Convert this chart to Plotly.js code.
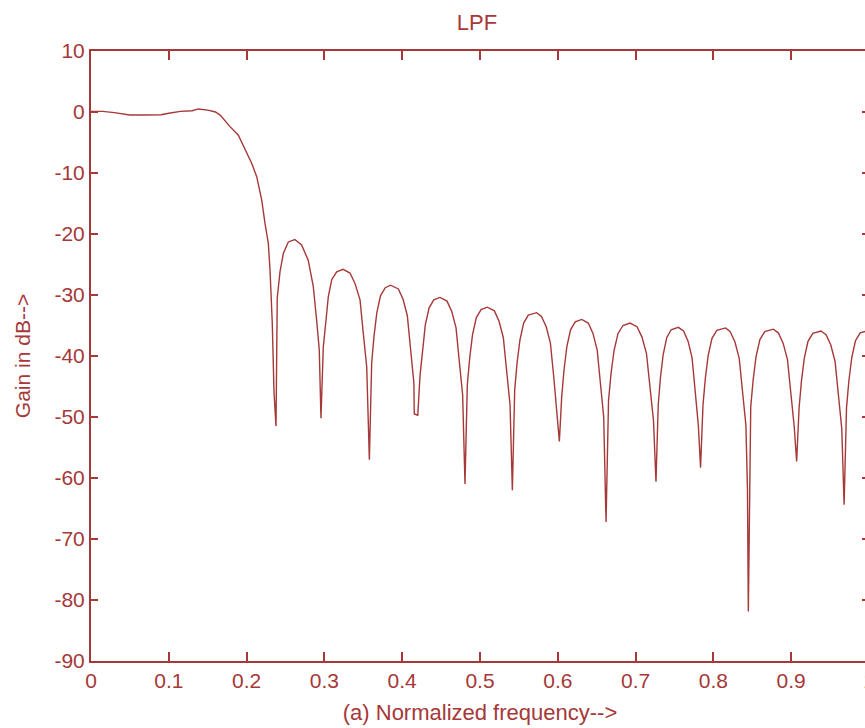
<!DOCTYPE html>
<html>
<head>
<meta charset="utf-8">
<script src="https://cdn.plot.ly/plotly-3.0.1.min.js"></script>
<style>
html,body{margin:0;padding:0;overflow:hidden;background:#fff;}
#chart{width:880px;height:728px;}
</style>
</head>
<body>
<div id="chart"></div>
<script>
// Normalized frequency (x) and gain in dB (y)
const freq = [
  0, 0.015, 0.03, 0.05, 0.07, 0.09, 0.10, 0.115, 0.13, 0.138, 0.15, 0.16, 0.166,
  0.1787, 0.1894, 0.198, 0.2065, 0.213, 0.2172, 0.2194, 0.2237, 0.2279, 0.2301, 0.233, 0.2352,
  0.2378,
  0.2394, 0.2429, 0.2472, 0.2536, 0.262, 0.2707, 0.2792, 0.2857, 0.2900, 0.2934,
  0.2956,
  0.2986, 0.3021, 0.3050, 0.3094, 0.3158, 0.324, 0.3329, 0.3393, 0.3458, 0.3500, 0.3544,
  0.3578,
  0.3608, 0.3638, 0.3674, 0.3722, 0.3783, 0.385, 0.3951, 0.4011, 0.4066, 0.4108, 0.4150,
  0.4155, 0.4200,
  0.4230, 0.4261, 0.4297, 0.4346, 0.4406, 0.4486, 0.4576, 0.4637, 0.4692, 0.4734, 0.4777,
  0.4807,
  0.4837, 0.4868, 0.4904, 0.4953, 0.5014, 0.5094, 0.5185, 0.5245, 0.5300, 0.5343, 0.5386,
  0.5416,
  0.5446, 0.5476, 0.5513, 0.5561, 0.5621, 0.5728, 0.5790, 0.5851, 0.5905, 0.5948, 0.5990,
  0.6020,
  0.6050, 0.6080, 0.6116, 0.6164, 0.6224, 0.6307, 0.6392, 0.6452, 0.6506, 0.6548, 0.6590,
  0.6620,
  0.6652, 0.6684, 0.6723, 0.6774, 0.6838, 0.6928, 0.7018, 0.7082, 0.7140, 0.7185, 0.7230,
  0.7262,
  0.7291, 0.7319, 0.7354, 0.7400, 0.7457, 0.7549, 0.7617, 0.7675, 0.7726, 0.7766, 0.7806,
  0.7835,
  0.7866, 0.7896, 0.7933, 0.7982, 0.8044, 0.8157, 0.8216, 0.8277, 0.8332, 0.8375, 0.8418, 0.8438,
  0.8449,
  0.8480, 0.8511, 0.8548, 0.8598, 0.8660, 0.8770, 0.8834, 0.8896, 0.8952, 0.8996, 0.9039,
  0.9070,
  0.9101, 0.9131, 0.9168, 0.9216, 0.9277, 0.9383, 0.9448, 0.9509, 0.9564, 0.9607, 0.9650,
  0.9680,
  0.9711, 0.9741, 0.9778, 0.9826, 0.9887, 1.0
];
const gainDb = [
  0.1, 0.1, -0.1, -0.5, -0.5, -0.45, -0.2, 0.1, 0.2, 0.5, 0.3, 0.0, -0.5,
  -2.4, -3.8, -6.2, -8.4, -10.6, -12.8, -14.4, -18.3, -21.5, -25.9, -34.6, -45.9,
  -51.5,
  -30.5, -26.2, -23.2, -21.3, -20.9, -21.8, -24.3, -28.6, -34.1, -39.0,
  -50.2,
  -38.5, -34.1, -30.3, -27.5, -26.2, -25.8, -26.4, -28.1, -30.8, -36.3, -41.8,
  -57.0,
  -41.1, -36.7, -32.9, -30.1, -28.8, -28.4, -29.0, -30.7, -33.4, -38.9, -44.4,
  -49.5, -49.7,
  -43.1, -38.7, -34.9, -32.1, -30.8, -30.4, -31.0, -32.7, -35.4, -40.9, -46.4,
  -61.0,
  -44.7, -40.3, -36.5, -33.7, -32.4, -32.0, -32.6, -34.3, -37.0, -42.5, -48.0,
  -62.0,
  -45.6, -41.2, -37.4, -34.6, -33.3, -32.9, -33.5, -35.2, -37.9, -43.4, -48.9,
  -54.0,
  -46.7, -42.3, -38.5, -35.7, -34.4, -34.0, -34.6, -36.3, -39.0, -44.5, -50.0,
  -67.2,
  -47.3, -42.9, -39.1, -36.3, -35.0, -34.6, -35.2, -36.9, -39.6, -45.1, -50.6,
  -60.6,
  -48.0, -43.6, -39.8, -37.0, -35.7, -35.3, -35.9, -37.6, -40.3, -45.8, -51.3,
  -58.3,
  -48.1, -43.7, -39.9, -37.1, -35.8, -35.4, -36.0, -37.7, -40.4, -45.9, -51.4, -62.0,
  -81.9,
  -48.3, -43.9, -40.1, -37.3, -36.0, -35.6, -36.2, -37.9, -40.6, -46.1, -51.6,
  -57.3,
  -48.6, -44.2, -40.4, -37.6, -36.3, -35.9, -36.5, -38.2, -40.9, -46.4, -51.9,
  -64.4,
  -48.5, -44.1, -40.3, -37.5, -36.2, -35.8
];
const xTickVals = [0, 0.1, 0.2, 0.3, 0.4, 0.5, 0.6, 0.7, 0.8, 0.9, 1];
const xTickText = ["0", "0.1", "0.2", "0.3", "0.4", "0.5", "0.6", "0.7", "0.8", "0.9", "1"];
const yTickVals = [10, 0, -10, -20, -30, -40, -50, -60, -70, -80, -90];
const yTickText = ["10", "0", "-10", "-20", "-30", "-40", "-50", "-60", "-70", "-80", "-90"];

const red = "#a63838";
const fontFam = "Liberation Sans, Arial, sans-serif";

const trace = {
  x: freq, y: gainDb, type: "scatter", mode: "lines",
  line: {color: red, width: 1.4}, hoverinfo: "skip"
};

const layout = {
  width: 880, height: 728,
  margin: {l: 91, r: 11, t: 51, b: 67, pad: 0},
  paper_bgcolor: "#ffffff", plot_bgcolor: "#ffffff",
  showlegend: false,
  font: {family: fontFam, color: red, size: 21},
  title: {text: "LPF", x: 0.542, xanchor: "center", y: 0.97, yanchor: "middle",
          font: {family: fontFam, size: 22, color: red}},
  xaxis: {
    range: [0, 1], autorange: false,
    tickvals: xTickVals, ticktext: xTickText,
    ticks: "inside", ticklen: 9, tickwidth: 2, tickcolor: red,
    showline: true, linecolor: red, linewidth: 2, mirror: "ticks",
    showgrid: false, zeroline: false,
    tickfont: {family: fontFam, size: 21, color: red},
    title: {text: "(a) Normalized frequency-->", standoff: 13,
            font: {family: fontFam, size: 22, color: red}}
  },
  yaxis: {
    range: [-90, 10], autorange: false,
    tickvals: yTickVals, ticktext: yTickText,
    ticks: "inside", ticklen: 7, tickwidth: 2, tickcolor: red,
    showline: true, linecolor: red, linewidth: 2, mirror: "ticks",
    showgrid: false, zeroline: false,
    tickfont: {family: fontFam, size: 21, color: red},
    title: {text: "Gain in dB-->", standoff: 18,
            font: {family: fontFam, size: 21, color: red}}
  }
};

Plotly.newPlot("chart", [trace], layout, {staticPlot: true, displayModeBar: false});
</script>
</body>
</html>
